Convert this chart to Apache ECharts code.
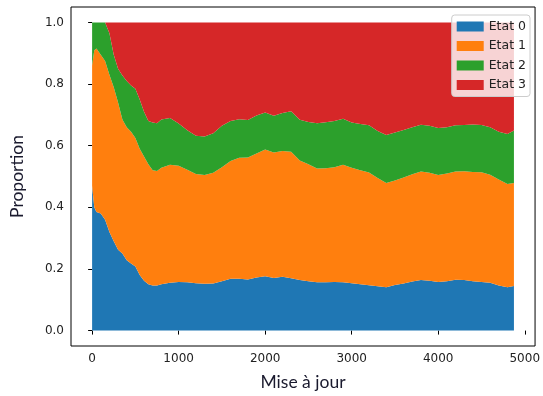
<!DOCTYPE html>
<html>
<head>
<meta charset="utf-8">
<script src="https://cdn.jsdelivr.net/npm/echarts@6/dist/echarts.min.js"></script>
<style>
html,body{margin:0;padding:0;background:#fff;}
#chart{width:543px;height:396px;}
</style>
</head>
<body>
<div id="chart"></div>
<script>
const updates = [0,25,50,100,150,200,250,300,350,400,450,500,550,600,650,700,750,800,900,1000,1100,1200,1300,1400,1500,1600,1700,1800,1900,2000,2100,2200,2300,2400,2500,2600,2700,2800,2900,3000,3100,3200,3300,3400,3500,3600,3700,3800,3900,4000,4100,4200,4300,4400,4500,4600,4700,4800,4875];
const etat0 = [.47,.40,.385,.38,.36,.32,.29,.262,.25,.228,.218,.208,.18,.162,.15,.146,.146,.15,.155,.158,.157,.154,.152,.153,.16,.168,.168,.166,.172,.176,.171,.175,.17,.164,.16,.157,.157,.158,.157,.154,.15,.147,.144,.141,.148,.153,.159,.164,.162,.158,.16,.165,.164,.16,.158,.155,.146,.141,.145];
const etat1 = [.39,.51,.53,.515,.515,.51,.50,.478,.435,.432,.427,.417,.41,.403,.39,.374,.372,.378,.383,.377,.365,.354,.353,.359,.37,.382,.393,.396,.403,.412,.407,.408,.41,.388,.38,.369,.37,.372,.381,.374,.37,.366,.351,.338,.339,.344,.348,.352,.35,.347,.35,.351,.353,.355,.356,.351,.344,.335,.334];
const etat2 = [.14,.09,.085,.105,.125,.135,.105,.11,.143,.15,.15,.16,.16,.145,.14,.155,.155,.157,.152,.137,.128,.124,.125,.128,.135,.13,.125,.121,.123,.12,.119,.123,.132,.132,.137,.147,.149,.15,.149,.147,.15,.153,.153,.156,.156,.154,.153,.152,.153,.152,.15,.15,.15,.154,.153,.154,.155,.162,.17];
const etat3 = [0,0,0,0,0,.035,.105,.15,.172,.19,.205,.215,.25,.29,.32,.325,.327,.315,.31,.328,.35,.368,.37,.36,.335,.32,.314,.317,.302,.292,.303,.294,.288,.316,.323,.327,.324,.32,.313,.325,.33,.334,.352,.365,.357,.349,.34,.332,.335,.343,.34,.334,.333,.331,.333,.34,.355,.362,.351];
const seriesNames = ['Etat 0','Etat 1','Etat 2','Etat 3'];
const seriesValues = [etat0, etat1, etat2, etat3];
const colors = ['#1f77b4','#ff7f0e','#2ca02c','#d62728'];
const xTicks = [0,1000,2000,3000,4000,5000];
const yTicks = [0,0.2,0.4,0.6,0.8,1.0];

const chart = echarts.init(document.getElementById('chart'), null, {renderer:'canvas'});
const labelFont = {fontFamily:'DejaVu Sans', fontSize:12, color:'#222'};
chart.setOption({
  animation:false,
  backgroundColor:'#fff',
  grid:{left:70, right:7, top:7, bottom:42, show:true, borderColor:'#000', borderWidth:1, backgroundColor:'transparent'},
  legend:{
    orient:'vertical', right:13, top:15,
    data:seriesNames,
    icon:'rect', itemWidth:27, itemHeight:10, itemGap:4.5,
    padding:[4,4,4,5],
    backgroundColor:'rgba(255,255,255,0.8)', borderColor:'#cccccc', borderWidth:1, borderRadius:3,
    textStyle:{fontFamily:'DejaVu Sans', fontSize:12.5, color:'#222', lineHeight:15}
  },
  xAxis:{
    type:'value', min:-244, max:5119,
    name:'Mise à jour', nameLocation:'middle', nameGap:27,
    nameTextStyle:{fontFamily:'Lato', fontSize:17.5, color:'#1a1a2e'},
    axisLine:{show:false},
    splitLine:{show:false},
    axisTick:{show:true, inside:false, length:4, lineStyle:{color:'#000'}, customValues:xTicks},
    axisLabel:Object.assign({margin:7, customValues:xTicks, formatter:v=>String(v)}, labelFont)
  },
  yAxis:{
    type:'value', min:-0.05, max:1.05,
    name:'Proportion', nameLocation:'middle', nameGap:45,
    nameTextStyle:{fontFamily:'Lato', fontSize:17.5, color:'#1a1a2e'},
    axisLine:{show:false},
    splitLine:{show:false},
    axisTick:{show:true, inside:false, length:4, lineStyle:{color:'#000'}, customValues:yTicks},
    axisLabel:Object.assign({margin:7, customValues:yTicks, formatter:v=>v.toFixed(1)}, labelFont)
  },
  series: seriesNames.map((name,i)=>({
    name:name, type:'line', stack:'total',
    // value first so that ECharts stacks the y dimension
    data: updates.map((x,j)=>[seriesValues[i][j], x]),
    encode:{x:1, y:0},
    symbol:'none', showSymbol:false,
    lineStyle:{width:0},
    areaStyle:{color:colors[i], opacity:1},
    itemStyle:{color:colors[i]},
    emphasis:{disabled:true}
  }))
});
</script>
</body>
</html>
